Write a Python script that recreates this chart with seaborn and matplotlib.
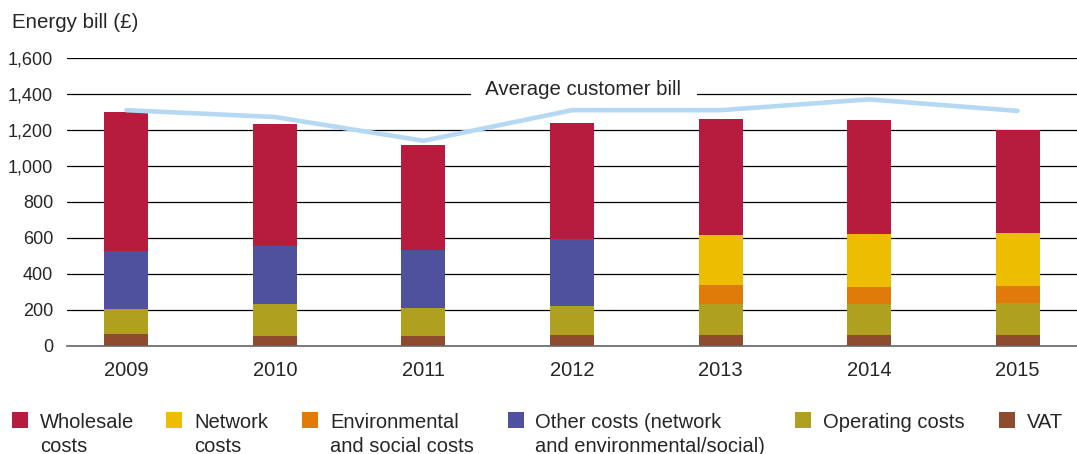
import numpy as np
import pandas as pd
import matplotlib
matplotlib.use("Agg")
import matplotlib.pyplot as plt
from matplotlib.patches import Rectangle
import seaborn as sns

years = ["2009", "2010", "2011", "2012", "2013", "2014", "2015"]

# Bill components (£), stacked bottom to top
vat = [65, 55, 55, 60, 60, 60, 60]
operating = [139, 177, 155, 161, 172, 172, 177]
environmental = [0, 0, 0, 0, 105, 94, 95]
network = [0, 0, 0, 0, 278, 295, 294]
other = [326, 326, 322, 372, 0, 0, 0]
wholesale = [770, 674, 583, 644, 645, 633, 572]

average_bill = [1310, 1272, 1140, 1310, 1310, 1370, 1306]

colors = {
    "vat": "#8F4B2E",
    "operating": "#AFA01F",
    "environmental": "#E07B0A",
    "network": "#ECBD00",
    "other": "#4F519E",
    "wholesale": "#B71C3E",
}
stack = [
    ("vat", vat),
    ("operating", operating),
    ("environmental", environmental),
    ("network", network),
    ("other", other),
    ("wholesale", wholesale),
]

sns.set_theme(style="white")
plt.rcParams["font.family"] = ["Liberation Sans", "DejaVu Sans"]
text_color = "#262626"

W, H = 1077, 454
fig = plt.figure(figsize=(W / 100, H / 100), dpi=100)
ax = fig.add_axes([0.0622, 0.2379, 0.9378, 0.6344])

# cumulative totals, drawn from the tallest down so each segment shows
cum = np.cumsum(np.array([s[1] for s in stack]), axis=0)
for i in range(len(stack) - 1, -1, -1):
    df = pd.DataFrame({"year": years, "value": cum[i]})
    sns.barplot(data=df, x="year", y="value", color=colors[stack[i][0]],
                width=0.296, saturation=1, ax=ax, zorder=2, linewidth=0)

sns.lineplot(x=np.arange(len(years)), y=average_bill, color="#B5D9F3",
             linewidth=3.3, ax=ax, zorder=4)

ax.text(3.08, 1424, "  Average customer bill  ", ha="center", va="center",
        fontsize=14.7, color=text_color, zorder=3,
        bbox=dict(facecolor="white", edgecolor="none", boxstyle="square,pad=0.2"))

ax.set_xlim(-0.4, 6.4)
ax.set_ylim(0, 1600)
ax.set_yticks(np.arange(0, 1601, 200))
ax.set_yticklabels([f"{v:,}" for v in range(0, 1601, 200)])
ax.yaxis.grid(True, color="black", linewidth=0.9, zorder=0)
ax.set_axisbelow(True)
ax.xaxis.grid(False)
for s in ["top", "right", "left"]:
    ax.spines[s].set_visible(False)
ax.spines["bottom"].set_color("#666666")
ax.spines["bottom"].set_linewidth(1.2)
ax.set_xlabel("")
ax.set_ylabel("")
ax.tick_params(axis="y", length=0, pad=10, labelsize=13, labelcolor=text_color)
ax.tick_params(axis="x", length=0, pad=11, labelsize=14.5, labelcolor=text_color)

fig.text(12 / W, 1 - 28 / H, "Energy bill (£)", ha="left", va="baseline",
         fontsize=14.8, color=text_color)

# legend entries laid out along the bottom
legend_items = [
    (["Wholesale", "costs"], "wholesale", 12, 40),
    (["Network", "costs"], "network", 166, 194),
    (["Environmental", "and social costs"], "environmental", 302, 330),
    (["Other costs (network", "and environmental/social)"], "other", 508, 535),
    (["Operating costs"], "operating", 795, 823),
    (["VAT"], "vat", 999, 1027),
]
for lines, key, sx, tx in legend_items:
    fig.patches.append(Rectangle((sx / W, 1 - 428 / H), 16 / W, 16 / H,
                                 transform=fig.transFigure,
                                 facecolor=colors[key], edgecolor="none"))
    for k, line in enumerate(lines):
        fig.text(tx / W, 1 - (428 + 24 * k) / H, line, ha="left",
                 va="baseline", fontsize=14.5, color=text_color)

fig.savefig("out.png", dpi=100)
